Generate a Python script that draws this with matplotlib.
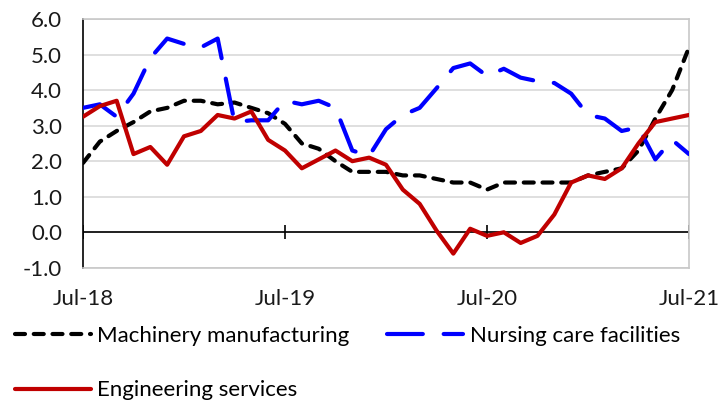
import numpy as np
import matplotlib
matplotlib.use("Agg")
import matplotlib.pyplot as plt

plt.rcParams['font.family'] = ['Lato', 'DejaVu Sans']

# monthly series, Jul-18 .. Jul-21
machinery = [1.95, 2.55, 2.85, 3.1, 3.4, 3.5, 3.7, 3.7, 3.6, 3.65, 3.5, 3.35, 3.05,
             2.5, 2.35, 2.0, 1.7, 1.7, 1.7, 1.6, 1.6, 1.5, 1.4, 1.4, 1.2,
             1.4, 1.4, 1.4, 1.4, 1.4, 1.6, 1.7, 1.8, 2.3, 3.2, 4.0, 5.2]
nursing = [3.5, 3.6, 3.25, 3.9, 4.9, 5.45, 5.3, 5.2, 5.45, 3.1, 3.15, 3.15, 3.7,
           3.6, 3.7, 3.5, 2.3, 2.15, 2.9, 3.3, 3.5, 4.05, 4.62, 4.75, 4.4,
           4.6, 4.35, 4.25, 4.2, 3.9, 3.3, 3.2, 2.85, 2.95, 2.05, 2.6, 2.2]
engineering = [3.25, 3.55, 3.7, 2.2, 2.4, 1.9, 2.7, 2.85, 3.3, 3.2, 3.4, 2.6, 2.3,
               1.8, 2.05, 2.3, 2.0, 2.1, 1.9, 1.2, 0.8, 0.05, -0.6, 0.1, -0.1,
               0.0, -0.3, -0.1, 0.5, 1.4, 1.6, 1.5, 1.8, 2.5, 3.1, 3.2, 3.3]

tick_pos = [0, 12, 24, 36]
tick_labels = ['Jul-18', 'Jul-19', 'Jul-20', 'Jul-21']
y_ticks = [-1, 0, 1, 2, 3, 4, 5, 6]

x = np.arange(len(machinery))

fig = plt.figure(figsize=(7.21, 4.04), dpi=100)
ax = fig.add_axes([0.1151, 0.337, 0.9556 - 0.1151, 0.953 - 0.337])

for v in y_ticks:
    ax.axhline(v, color='#d9d9d9', lw=1.2, zorder=0)
ax.axhline(0, color='black', lw=1.2, zorder=1)
ax.vlines(tick_pos, -0.2, 0.2, color='black', lw=1.2, zorder=1)

lw = 3
l_mach, = ax.plot(x, machinery, color='black', lw=lw, dashes=(2.4, 2.1),
                  dash_capstyle='round', solid_capstyle='round', zorder=3)
l_nurs, = ax.plot(x, nursing, color='#0000ff', lw=lw, dashes=(8.6, 5.0),
                  dash_capstyle='round', zorder=3)
l_eng, = ax.plot(x, engineering, color='#c00000', lw=lw,
                 solid_capstyle='round', solid_joinstyle='round', zorder=4)

ax.set_xlim(0, 36)
ax.set_ylim(-1, 6)
ax.set_yticks(y_ticks)
ax.set_yticklabels([f'{v:.1f}' for v in y_ticks])
ax.set_xticks(tick_pos)
ax.set_xticklabels(tick_labels)
ax.tick_params(axis='both', length=0, labelsize=16, colors='#1a1a1a')
ax.tick_params(axis='x', pad=15)
ax.tick_params(axis='y', pad=15)

for side in ['top', 'right', 'bottom']:
    ax.spines[side].set_color('#c8c8c8')
    ax.spines[side].set_linewidth(1.2)
ax.spines['left'].set_color('black')
ax.spines['left'].set_linewidth(1.2)

handles = [l_mach, l_eng, l_nurs]
labels = ['Machinery manufacturing', 'Engineering services', 'Nursing care facilities']
fig.legend(handles, labels, loc='upper left', bbox_to_anchor=(0.021, 0.193),
           ncol=2, frameon=False, fontsize=16, handlelength=3.4,
           handletextpad=0.3, columnspacing=1.7, labelspacing=1.55,
           borderpad=0, borderaxespad=0)

fig.savefig('out.png', dpi=100)
